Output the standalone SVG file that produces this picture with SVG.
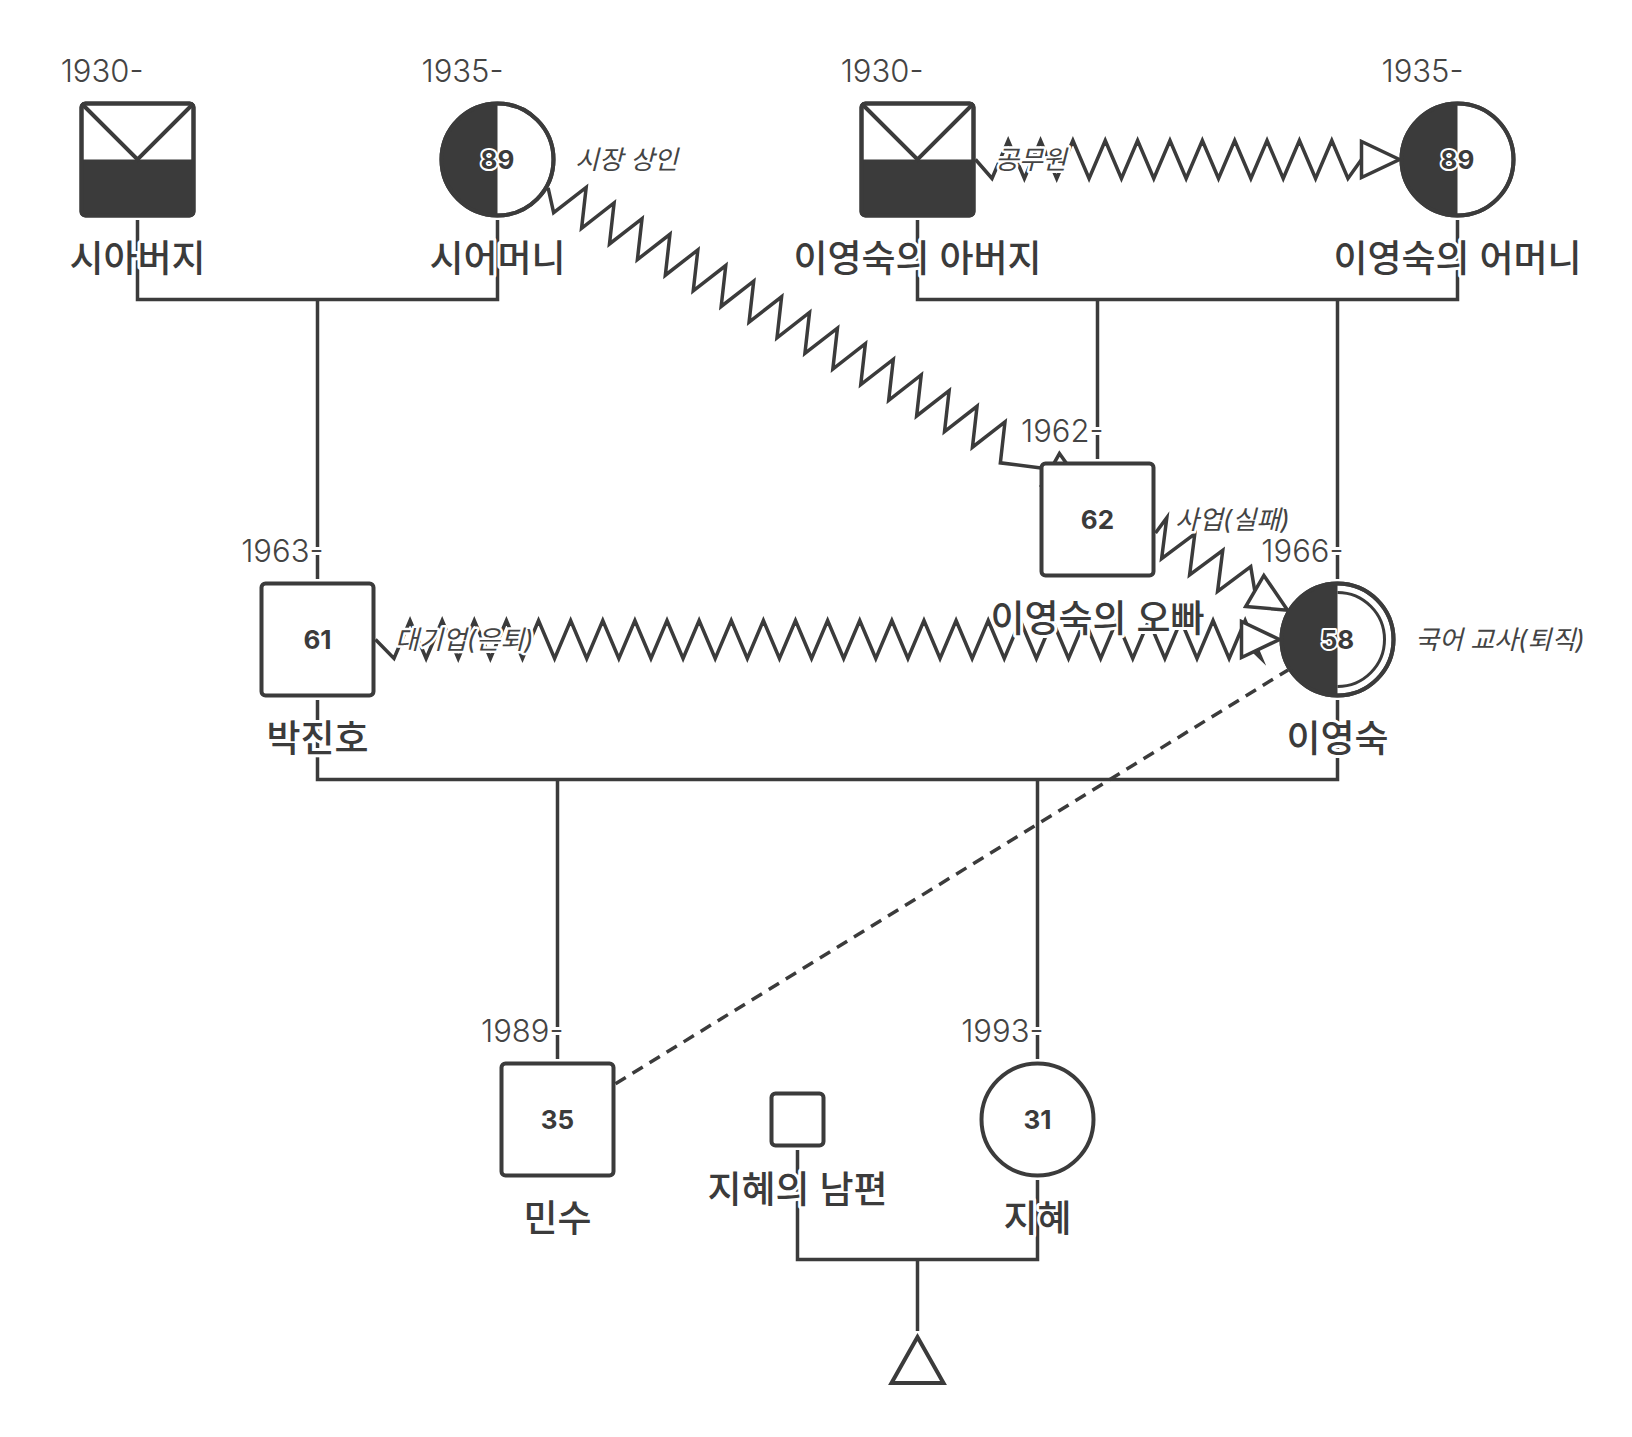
<svg xmlns="http://www.w3.org/2000/svg" xmlns:xlink="http://www.w3.org/1999/xlink" width="1632" height="1437" viewBox="0 0 1632 1437">
<style>
.ln{fill:none;stroke:#3b3b3b;stroke-width:3.5;stroke-linejoin:miter;stroke-linecap:butt}
.zz{fill:none;stroke:#3b3b3b;stroke-width:3.5;stroke-linejoin:miter;stroke-miterlimit:6}
.ah{fill:#fff;stroke:#3b3b3b;stroke-width:3.5;stroke-linejoin:miter}
.dash{stroke-dasharray:12 8}
.nd{fill:#fff;stroke:#3b3b3b;stroke-width:4}
.ol{fill:none;stroke:#3b3b3b;stroke-width:4}
.dk{fill:#3b3b3b}
.t{font-family:Inter,'Noto Sans CJK KR','Noto Sans',sans-serif;paint-order:stroke;stroke:#fff;stroke-linejoin:round;fill:#3b3b3b}
.name{font-size:37px;font-weight:500;text-anchor:middle;stroke-width:6}
.year{font-size:31px;font-weight:300;text-anchor:end;stroke-width:6;fill:#444}
.age{font-size:26px;font-weight:700;text-anchor:middle;stroke-width:4}
.occ{font-size:26px;font-style:italic;font-weight:400;stroke-width:5;fill:#444}
</style>
<defs>
<path id="ahd" d="M0,0 L-38,-18 L-38,18 Z"/>
</defs>
<rect width="1632" height="1437" fill="#fff"/>
<g id="connectors">
<path class="ln" d="M137.5,220 V299.5 H497.5 V220"/>
<path class="ln" d="M317.5,299.5 V579"/>
<path class="ln" d="M917.5,220 V299.5 H1457.5 V220"/>
<path class="ln" d="M1097.5,299.5 V459"/>
<path class="ln" d="M1337.5,299.5 V579"/>
<path class="ln" d="M317.5,700 V779.5 H1337.5 V700"/>
<path class="ln" d="M557.5,779.5 V1059"/>
<path class="ln" d="M1037.5,779.5 V1059"/>
<path class="ln" d="M797.5,1150 V1259.5 H1037.5 V1180"/>
<path class="ln" d="M917.5,1259.5 V1331"/>
<path class="ln dash" d="M615.5,1083.8 L1288.1,669.9"/>
<g transform="translate(548.1,187.8) rotate(29.25)">
<path class="zz" d="M0,0 L17,19 l16,-38 l16,38 l16,-38 l16,38 l16,-38 l16,38 l16,-38 l16,38 l16,-38 l16,38 l16,-38 l16,38 l16,-38 l16,38 l16,-38 l16,38 l16,-38 l16,38 l16,-38 l16,38 l16,-38 l16,38 l16,-38 l16,38 l16,-38 l16,38 l16,-38 l16,38 l16,-38 l16,38 l16,-38 l16,38 L576,0"/>
<use href="#ahd" class="ah" x="614" y="0"/>
</g>
<g transform="translate(975.5,159.5)">
<path class="zz" d="M0,0 L16.5,19 l16.18,-38 l16.18,38 l16.18,-38 l16.18,38 l16.18,-38 l16.18,38 l16.18,-38 l16.18,38 l16.18,-38 l16.18,38 l16.18,-38 l16.18,38 l16.18,-38 l16.18,38 l16.18,-38 l16.18,38 l16.18,-38 l16.18,38 l16.18,-38 l16.18,38 l16.18,-38 l16.18,38 L386,0"/>
<use href="#ahd" class="ah" x="424" y="0"/>
</g>
<g transform="translate(375.5,639.5)">
<path class="zz" d="M0,0 L18.5,19 l16.06,-38 l16.06,38 l16.06,-38 l16.06,38 l16.06,-38 l16.06,38 l16.06,-38 l16.06,38 l16.06,-38 l16.06,38 l16.06,-38 l16.06,38 l16.06,-38 l16.06,38 l16.06,-38 l16.06,38 l16.06,-38 l16.06,38 l16.06,-38 l16.06,38 l16.06,-38 l16.06,38 l16.06,-38 l16.06,38 l16.06,-38 l16.06,38 l16.06,-38 l16.06,38 l16.06,-38 l16.06,38 l16.06,-38 l16.06,38 l16.06,-38 l16.06,38 l16.06,-38 l16.06,38 l16.06,-38 l16.06,38 l16.06,-38 l16.06,38 l16.06,-38 l16.06,38 l16.06,-38 l16.06,38 l16.06,-38 l16.06,38 l16.06,-38 l16.06,38 l16.06,-38 l16.06,38 l16.06,-38 l16.06,38 l16.06,-38 l16.06,38 L866,0"/>
<use href="#ahd" class="ah" x="904" y="0"/>
</g>
<g transform="translate(1155.5,533) rotate(30.3)">
<path class="zz" d="M0,0 L2,-19 L18.2,19 L34.4,-19 L50.6,19 L66.8,-19 L83,19 L99.2,-19 L115,0"/>
<use href="#ahd" class="ah" x="153" y="0"/>
</g>
</g>
<g id="node-siabeoji">
<rect class="nd" x="81.5" y="103.5" width="112" height="112" rx="4"/>
<rect class="dk" x="81.5" y="159.5" width="112" height="56"/>
<path class="ol" d="M81.5,103.5 L137.5,159.5 L193.5,103.5"/>
<rect class="ol" x="81.5" y="103.5" width="112" height="112" rx="4"/>
<text class="t year" x="143.5" y="81.5">1930-</text>
<text class="t name" x="137.5" y="272">시아버지</text>
</g>
<g id="node-sieomeoni">
<circle class="nd" cx="497.5" cy="159.5" r="56"/>
<path class="dk" d="M497.5,103.5 A56,56 0 0 0 497.5,215.5 Z"/>
<circle class="ol" cx="497.5" cy="159.5" r="56"/>
<text class="t age" x="497.5" y="169">89</text>
<text class="t year" x="503.5" y="81.5">1935-</text>
<text class="t name" x="497.5" y="272">시어머니</text>
<text class="t occ" x="575" y="169">시장 상인</text>
</g>
<g id="node-father">
<rect class="nd" x="861.5" y="103.5" width="112" height="112" rx="4"/>
<rect class="dk" x="861.5" y="159.5" width="112" height="56"/>
<path class="ol" d="M861.5,103.5 L917.5,159.5 L973.5,103.5"/>
<rect class="ol" x="861.5" y="103.5" width="112" height="112" rx="4"/>
<text class="t year" x="923.5" y="81.5">1930-</text>
<text class="t name" x="917.5" y="272">이영숙의 아버지</text>
<text class="t occ" x="995" y="169">공무원</text>
</g>
<g id="node-mother">
<circle class="nd" cx="1457.5" cy="159.5" r="56"/>
<path class="dk" d="M1457.5,103.5 A56,56 0 0 0 1457.5,215.5 Z"/>
<circle class="ol" cx="1457.5" cy="159.5" r="56"/>
<text class="t age" x="1457.5" y="169">89</text>
<text class="t year" x="1463.5" y="81.5">1935-</text>
<text class="t name" x="1457.5" y="272">이영숙의 어머니</text>
</g>
<g id="node-brother">
<rect class="nd" x="1041.5" y="463.5" width="112" height="112" rx="4"/>
<text class="t age" x="1097.5" y="529">62</text>
<text class="t year" x="1103.5" y="441.5">1962-</text>
<text class="t name" x="1097.5" y="632">이영숙의 오빠</text>
<text class="t occ" x="1175" y="529">사업(실패)</text>
</g>
<g id="node-parkjinho">
<rect class="nd" x="261.5" y="583.5" width="112" height="112" rx="4"/>
<text class="t age" x="317.5" y="649">61</text>
<text class="t year" x="323.5" y="561.5">1963-</text>
<text class="t name" x="317.5" y="752">박진호</text>
<text class="t occ" x="395" y="649">대기업(은퇴)</text>
</g>
<g id="node-leeyoungsook">
<circle class="nd" cx="1337.5" cy="639.5" r="56"/>
<path class="dk" d="M1337.5,583.5 A56,56 0 0 0 1337.5,695.5 Z"/>
<circle class="ol" cx="1337.5" cy="639.5" r="56"/>
<path fill="none" stroke="#3b3b3b" stroke-width="3" d="M1337.5,592.5 A47,47 0 0 1 1337.5,686.5"/>
<text class="t age" x="1337.5" y="649">58</text>
<text class="t year" x="1343.5" y="561.5">1966-</text>
<text class="t name" x="1337.5" y="752">이영숙</text>
<text class="t occ" x="1415" y="649">국어 교사(퇴직)</text>
</g>
<g id="node-minsu">
<rect class="nd" x="501.5" y="1063.5" width="112" height="112" rx="4"/>
<text class="t age" x="557.5" y="1129">35</text>
<text class="t year" x="563.5" y="1041.5">1989-</text>
<text class="t name" x="557.5" y="1232">민수</text>
</g>
<g id="node-jihye-husband">
<rect class="nd" x="771.5" y="1093.5" width="52" height="52" rx="4"/>
<text class="t name" x="797.5" y="1203">지혜의 남편</text>
</g>
<g id="node-jihye">
<circle class="nd" cx="1037.5" cy="1119.5" r="56"/>
<text class="t age" x="1037.5" y="1129">31</text>
<text class="t year" x="1043.5" y="1041.5">1993-</text>
<text class="t name" x="1037.5" y="1232">지혜</text>
</g>
<g id="node-child">
<polygon class="nd" points="917.5,1337 891.5,1383 943.5,1383" style="stroke-linejoin:miter"/>
</g>
</svg>
